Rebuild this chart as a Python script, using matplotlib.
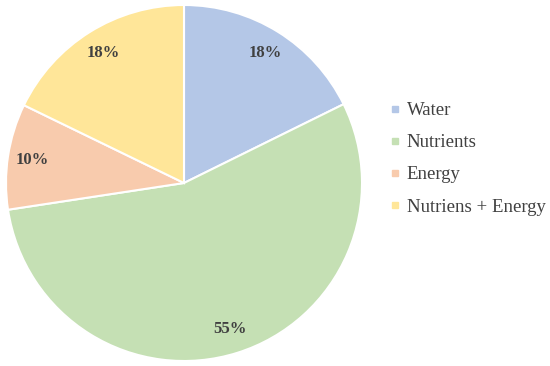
import matplotlib.pyplot as plt
from matplotlib.lines import Line2D

labels = ["Water", "Nutrients", "Energy", "Nutriens + Energy"]
shares = [17.7, 54.9, 9.6, 17.8]
colors = ["#B4C7E7", "#C5E0B4", "#F8CBAD", "#FFE699"]

plt.rcParams["font.family"] = ["Liberation Serif", "DejaVu Serif"]

fig = plt.figure(figsize=(5.5, 3.66), dpi=100)
ax = fig.add_axes([6 / 550, 5 / 366, 356 / 550, 356 / 366])

wedges, texts, autotexts = ax.pie(
    shares,
    colors=colors,
    startangle=90,
    counterclock=False,
    autopct="%.0f%%",
    pctdistance=0.86,
    wedgeprops={"edgecolor": "white", "linewidth": 1.5},
    textprops={"fontsize": 12, "fontweight": "bold", "color": "#404040"},
)
ax.set_xlim(-1, 1)
ax.set_ylim(-1, 1)
ax.set_aspect("equal")

handles = [
    Line2D([], [], marker="s", linestyle="", markersize=5,
           markerfacecolor=c, markeredgecolor=c)
    for c in colors
]
fig.legend(
    handles, labels,
    loc="center left",
    bbox_to_anchor=(374 / 550, 0.566),
    frameon=False,
    fontsize=13.5,
    handlelength=0.45,
    handletextpad=0.4,
    labelspacing=0.8,
    labelcolor="#404040",
)

fig.savefig("out.png", dpi=100)
